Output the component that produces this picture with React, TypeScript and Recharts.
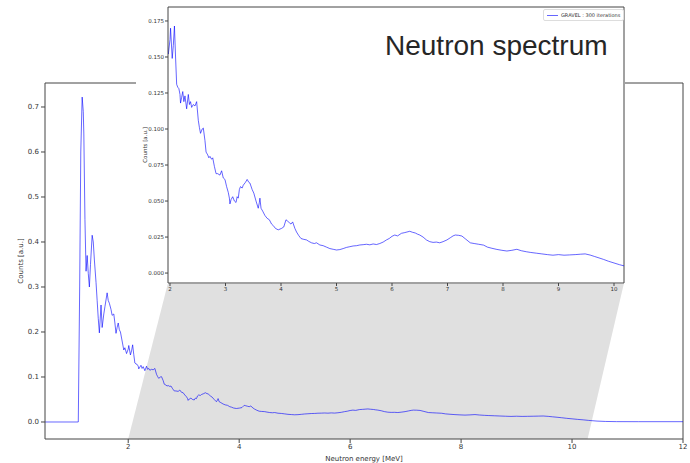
import React from 'react';
import {
  LineChart,
  Line,
  XAxis,
  YAxis,
  ReferenceLine,
  ReferenceArea,
  Legend,
} from 'recharts';

// low energy part (0.5 – 2 MeV), only seen in the big plot
const lowEnergy = [
  0.5, 1.1, 1.125, 1.145, 1.17, 1.19, 1.2, 1.22, 1.24, 1.26, 1.28, 1.3, 1.32,
  1.35, 1.37, 1.39, 1.42, 1.44, 1.46, 1.48, 1.51, 1.53, 1.56, 1.58, 1.62, 1.64,
  1.66, 1.69, 1.71, 1.74, 1.76, 1.78, 1.8, 1.82, 1.84, 1.86, 1.89, 1.92, 1.94,
  1.97,
];
const lowCounts = [
  0, 0, 0.3, 0.6, 0.722, 0.69, 0.64, 0.45, 0.335, 0.37, 0.33, 0.3, 0.35, 0.415,
  0.4, 0.36, 0.31, 0.27, 0.23, 0.198, 0.26, 0.21, 0.24, 0.256, 0.287, 0.27,
  0.264, 0.25, 0.237, 0.24, 0.22, 0.197, 0.21, 0.22, 0.205, 0.2, 0.18, 0.16,
  0.165, 0.152,
];

// 2 – 10.2 MeV, the zoomed part
const midEnergy = [
  2.0, 2.01, 2.04, 2.06, 2.08, 2.1, 2.12, 2.14, 2.16, 2.18, 2.19, 2.21, 2.23,
  2.25, 2.27, 2.3, 2.33, 2.35, 2.37, 2.39, 2.42, 2.45, 2.48, 2.51, 2.53, 2.55,
  2.58, 2.6, 2.63, 2.65, 2.68, 2.7, 2.72, 2.75, 2.77, 2.8, 2.83, 2.86, 2.9,
  2.93, 2.96, 2.99, 3.02, 3.05, 3.07, 3.08, 3.1, 3.13, 3.16, 3.19, 3.21, 3.23,
  3.25, 3.27, 3.3, 3.32, 3.36, 3.39, 3.42, 3.44, 3.48, 3.51, 3.55, 3.59, 3.61,
  3.62, 3.64, 3.67, 3.71, 3.75, 3.79, 3.83, 3.86, 3.9, 3.95, 4.01, 4.05, 4.09,
  4.12, 4.15, 4.18, 4.21, 4.25, 4.28, 4.32, 4.36, 4.4, 4.46, 4.5, 4.55, 4.6,
  4.64, 4.7, 4.76, 4.82, 4.88, 4.94, 5.0, 5.06, 5.12, 5.18, 5.24, 5.3, 5.36,
  5.42, 5.48, 5.54, 5.6, 5.66, 5.72, 5.78, 5.84, 5.9, 5.95, 6.0, 6.05, 6.1,
  6.17, 6.22, 6.27, 6.32, 6.37, 6.42, 6.46, 6.5, 6.56, 6.62, 6.68, 6.74, 6.8,
  6.86, 6.92, 6.99, 7.05, 7.1, 7.14, 7.2, 7.26, 7.33, 7.41, 7.48, 7.56, 7.65,
  7.72, 7.8, 7.89, 7.98, 8.07, 8.16, 8.25, 8.33, 8.42, 8.5, 8.6, 8.7, 8.8, 8.9,
  9.0, 9.1, 9.2, 9.3, 9.4, 9.48, 9.57, 9.65, 9.73, 9.81, 9.9, 10.0, 10.1, 10.2,
];
const midCounts = [
  0.162, 0.17, 0.149, 0.158, 0.1715, 0.15, 0.131, 0.129, 0.128, 0.124, 0.118,
  0.122, 0.126, 0.119, 0.123, 0.114, 0.124, 0.117, 0.119, 0.115, 0.117, 0.116,
  0.119, 0.106, 0.101, 0.097, 0.1, 0.1007, 0.092, 0.084, 0.082, 0.08, 0.081,
  0.079, 0.08, 0.074, 0.069, 0.069, 0.068, 0.071, 0.066, 0.065, 0.06, 0.056,
  0.052, 0.048, 0.051, 0.053, 0.05, 0.049, 0.053, 0.052, 0.058, 0.06, 0.059,
  0.061, 0.063, 0.065, 0.063, 0.0625, 0.058, 0.0555, 0.05, 0.045, 0.049, 0.052,
  0.045, 0.043, 0.04, 0.038, 0.037, 0.034, 0.033, 0.031, 0.03, 0.031, 0.032,
  0.037, 0.036, 0.035, 0.034, 0.0355, 0.031, 0.0285, 0.026, 0.024, 0.0235,
  0.023, 0.022, 0.021, 0.0205, 0.021, 0.0195, 0.019, 0.018, 0.017, 0.0165,
  0.016, 0.0163, 0.017, 0.0178, 0.0183, 0.0188, 0.019, 0.0195, 0.0197, 0.02,
  0.0196, 0.0202, 0.0198, 0.0205, 0.0215, 0.023, 0.024, 0.0255, 0.0264, 0.0258,
  0.0276, 0.028, 0.0285, 0.029, 0.0283, 0.0278, 0.027, 0.0264, 0.025, 0.023,
  0.0218, 0.0213, 0.0215, 0.021, 0.0218, 0.023, 0.0245, 0.0258, 0.0264, 0.0262,
  0.0257, 0.0235, 0.021, 0.0205, 0.02, 0.0194, 0.018, 0.0172, 0.0164, 0.0158,
  0.0153, 0.0158, 0.0165, 0.0155, 0.0148, 0.0143, 0.0138, 0.0133, 0.0128,
  0.0124, 0.0128, 0.0124, 0.0126, 0.0128, 0.0131, 0.0133, 0.0125, 0.0115,
  0.0105, 0.0095, 0.0082, 0.007, 0.0058, 0.0048,
];

// high energy tail
const tailEnergy = [10.3, 10.45, 10.6, 10.8, 11.2, 12];
const tailCounts = [0.0035, 0.002, 0.0012, 0.0008, 0.0007, 0.0007];

const mainXTicks = [2, 4, 6, 8, 10, 12];
const mainYTicks = [0, 0.1, 0.2, 0.3, 0.4, 0.5, 0.6, 0.7];
const insetXTicks = [2, 3, 4, 5, 6, 7, 8, 9, 10];
const insetYTicks = [0, 0.025, 0.05, 0.075, 0.1, 0.125, 0.15, 0.175];

const mainXDomain = [0.5, 12];
const mainYDomain = [-0.0378, 0.7533];
const insetXDomain = [1.964, 10.18];
const insetYDomain = [-0.0069, 0.1847];
const zoomFrom = 2;
const zoomTo = 10.28;

const toPoints = (es: number[], cs: number[]) =>
  es.map((e, i) => ({ e, v: cs[i] }));

const spectrum = [
  ...toPoints(lowEnergy, lowCounts),
  ...toPoints(midEnergy, midCounts),
  ...toPoints(tailEnergy, tailCounts),
];

const LINE = '#0000ff';
const AX = '#444';
const FONT = 'DejaVu Sans';

// inset placement on the page (plot rectangle)
const INSET_X = 136;
const INSET_LEFT = 168;
const INSET_RIGHT = 624;
const INSET_BOTTOM = 283;

// grey band joining the zoomed range to the inset
const ZoomBand = (p: any) => {
  const { x, y, width, height } = p;
  const b = y + height;
  const pts = `${x},${b} ${x + width},${b} ${INSET_RIGHT},${INSET_BOTTOM} ${INSET_LEFT},${INSET_BOTTOM}`;
  return <polygon points={pts} fill="#e0e0e0" stroke="none" />;
};

const InsetLegend = ({ payload }: any) => (
  <div
    style={{
      border: '1px solid #ddd',
      borderRadius: 2,
      background: '#fff',
      padding: '2px 3px',
      display: 'flex',
      alignItems: 'center',
      fontFamily: FONT,
      fontSize: 5,
      color: '#333',
      whiteSpace: 'nowrap',
    }}
  >
    {(payload || []).map((it: any) => (
      <span key={it.value} style={{ display: 'flex', alignItems: 'center' }}>
        <span
          style={{
            display: 'inline-block',
            width: 11,
            height: 1,
            background: 'rgba(0,0,255,0.6)',
            marginRight: 3,
          }}
        />
        {it.value}
      </span>
    ))}
  </div>
);

export default function App() {
  const tick7 = { fontSize: 7, fill: '#333', fontFamily: FONT };
  const tick5 = { fontSize: 5.5, fill: '#333', fontFamily: FONT };
  return (
    <div
      style={{
        position: 'absolute',
        left: 0,
        top: 0,
        width: 690,
        height: 463,
        background: '#fff',
        overflow: 'hidden',
      }}
    >
      {/* main plot */}
      <div style={{ position: 'absolute', left: 0, top: 0 }}>
        <LineChart
          width={690}
          height={463}
          data={spectrum}
          margin={{ top: 83, right: 7, bottom: 0, left: 0 }}
        >
          <XAxis
            dataKey="e"
            type="number"
            domain={mainXDomain}
            ticks={mainXTicks}
            height={24}
            tickSize={4}
            tickMargin={1}
            stroke={AX}
            tick={tick7}
            label={{
              value: 'Neutron energy [MeV]',
              position: 'insideBottom',
              offset: 2,
              style: { fontSize: 7, fill: '#333', fontFamily: FONT },
            }}
          />
          <YAxis
            type="number"
            domain={mainYDomain}
            ticks={mainYTicks}
            width={45}
            tickSize={4}
            tickMargin={2}
            stroke={AX}
            tick={tick7}
            tickFormatter={(v: number) => v.toFixed(1)}
            label={{
              value: 'Counts [a.u.]',
              angle: -90,
              position: 'insideLeft',
              offset: 21,
              style: {
                fontSize: 7,
                fill: '#333',
                fontFamily: FONT,
                textAnchor: 'middle',
              },
            }}
          />
          <ReferenceArea
            x1={zoomFrom}
            x2={zoomTo}
            y1={mainYDomain[0]}
            y2={0.3}
            shape={ZoomBand}
          />
          <ReferenceLine x={mainXDomain[1]} stroke={AX} />
          <ReferenceLine y={mainYDomain[1]} stroke={AX} />
          <Line
            dataKey="v"
            stroke={LINE}
            strokeOpacity={0.6}
            strokeWidth={1}
            dot={false}
            isAnimationActive={false}
          />
        </LineChart>
      </div>

      {/* white card under the inset */}
      <div
        style={{
          position: 'absolute',
          left: INSET_X,
          top: 0,
          width: INSET_RIGHT - INSET_X + 1,
          height: INSET_BOTTOM + 1,
          background: '#fff',
        }}
      />

      {/* inset */}
      <div style={{ position: 'absolute', left: INSET_X, top: 0 }}>
        <LineChart
          width={489}
          height={300}
          data={spectrum}
          margin={{ top: 7, right: 1, bottom: 0, left: 0 }}
        >
          <XAxis
            dataKey="e"
            type="number"
            domain={insetXDomain}
            allowDataOverflow
            ticks={insetXTicks}
            height={17}
            tickSize={3}
            tickMargin={1}
            stroke={AX}
            tick={tick5}
          />
          <YAxis
            type="number"
            domain={insetYDomain}
            allowDataOverflow
            ticks={insetYTicks}
            width={32}
            tickSize={3}
            tickMargin={1}
            stroke={AX}
            tick={tick5}
            tickFormatter={(v: number) => v.toFixed(3)}
            label={{
              value: 'Counts [a.u.]',
              angle: -90,
              position: 'insideLeft',
              offset: 9,
              style: {
                fontSize: 5.5,
                fill: '#333',
                fontFamily: FONT,
                textAnchor: 'middle',
              },
            }}
          />
          <ReferenceLine x={insetXDomain[1]} stroke={AX} />
          <ReferenceLine y={insetYDomain[1]} stroke={AX} />
          <Legend
            content={<InsetLegend />}
            layout="horizontal"
            verticalAlign="middle"
            align="center"
            wrapperStyle={{ top: 9, left: 407, width: 'auto' }}
          />
          <Line
            name="GRAVEL : 300 iterations"
            dataKey="v"
            stroke={LINE}
            strokeOpacity={0.6}
            strokeWidth={1}
            dot={false}
            isAnimationActive={false}
          />
        </LineChart>
      </div>

      <div
        style={{
          position: 'absolute',
          left: 385,
          top: 30,
          fontFamily: 'Liberation Sans',
          fontSize: 28,
          lineHeight: '32px',
          color: '#262626',
          whiteSpace: 'nowrap',
        }}
      >
        Neutron spectrum
      </div>
    </div>
  );
}
